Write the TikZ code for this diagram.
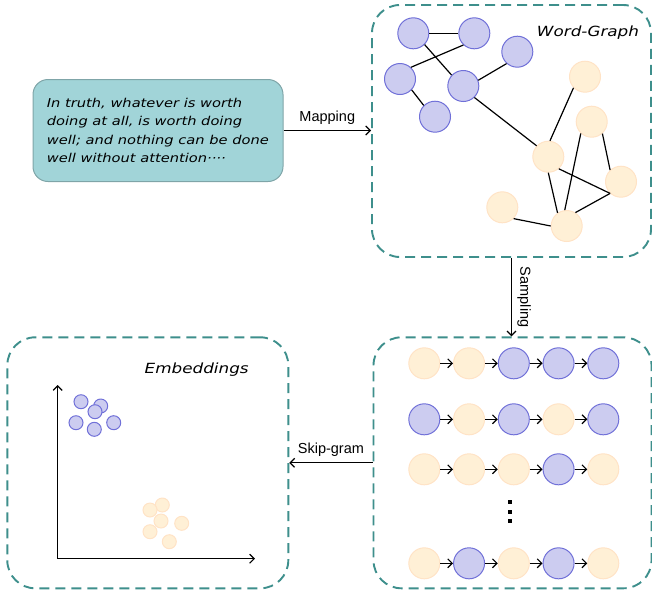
\documentclass[tikz,border=0pt]{standalone}
\usepackage{fontspec}
\setmainfont{Liberation Sans}
\newfontfamily\handfont[FakeStretch=1.2]{DejaVu Sans}
\usetikzlibrary{arrows.meta}

\definecolor{fillblue}{HTML}{CCCCF0}
\definecolor{edgeblue}{HTML}{7070D8}
\definecolor{fillpale}{HTML}{FFF0D6}
\definecolor{edgepale}{HTML}{FFE3C6}
\definecolor{boxteal}{HTML}{3E8F8C}
\definecolor{textfill}{HTML}{A1D4D8}
\definecolor{textedge}{HTML}{7FA5A8}

\tikzset{
	blue dot/.style={circle,draw=edgeblue,fill=fillblue,line width=1pt,minimum size=31pt,inner sep=0pt},
	pale dot/.style={circle,draw=edgepale,fill=fillpale,line width=1pt,minimum size=31pt,inner sep=0pt},
	region/.style={draw=boxteal,line width=1.9pt,dash pattern=on 10pt off 6pt,rounded corners=28pt},
	link/.style={line width=1.2pt},
	flow/.style={-{Straight Barb[length=4.5pt,width=9pt]},line width=1.2pt},
	hand/.style={font=\handfont\itshape\fontsize{14}{16}\selectfont},
	tag/.style={font=\fontsize{14.5}{16}\selectfont}
}

\begin{document}
\begin{tikzpicture}[x=1pt,y=-1pt]

	\useasboundingbox (0,0) rectangle (652,595);

	% sentence
	\node[draw=textedge,fill=textfill,rounded corners=15pt,line width=1pt,
		minimum width=250pt,minimum height=102pt] (txt) at (158,130.5) {};
	\node[anchor=west,inner sep=0pt,align=left,
		font=\handfont\itshape\fontsize{12.2}{18.3}\selectfont] (sentence) at (46.7,130.5)
		{In truth, whatever is worth\\ doing at all, is worth doing\\ well; and nothing can be done\\ well without attention····};

	% the three regions
	\node[region,minimum width=279pt,minimum height=252pt] (graph) at (511.5,131) {};
	\node[region,minimum width=278pt,minimum height=251pt] (walks) at (512.5,462.8) {};
	\node[region,minimum width=281pt,minimum height=251pt] (emb) at (147.8,462.8) {};

	\node[hand] (wglabel) at (588,33) {Word-Graph};
	\node[hand] (emblabel) at (196.7,369.3) {Embeddings};

	% word graph
	\node[blue dot] (b1) at (413.3,33.3) {};
	\node[blue dot] (b2) at (474.3,33.3) {};
	\node[blue dot] (b3) at (517.3,51.7) {};
	\node[blue dot] (b4) at (400,79) {};
	\node[blue dot] (b5) at (463.3,86) {};
	\node[blue dot] (b6) at (435,116.7) {};
	\node[pale dot] (y1) at (585,76.7) {};
	\node[pale dot] (y2) at (591.7,121.7) {};
	\node[pale dot] (y3) at (548.3,156.7) {};
	\node[pale dot] (y4) at (621,181.7) {};
	\node[pale dot] (y5) at (502.3,207.3) {};
	\node[pale dot] (y6) at (566.7,226) {};

	\draw[link] (b1.0) -- (b2.180);
	\draw[link] (b1.315) -- (b5.137);
	\draw[link] (b4.47) -- (b2.227);
	\draw[link] (b4.317) -- (b6.135);
	\draw[link] (b5.21) -- (b3.228);
	\draw[link] (b5.314) -- (y3.137);
	\draw[link] (y3.84) -- (y1.224);
	\draw[link] (y3.270) -- (y6.125);
	\draw[link] (y3.311) -- (y4.227);
	\draw[link] (y4.227) -- (y6.57);
	\draw[link] (y2.227) -- (y6.97);
	\draw[link] (y2.312) -- (y4.133);
	\draw[link] (y5.315) -- (y6.180);

	% sampled walks
	\foreach \r/\yy/\cols in {1/363.3/{pale,pale,blue,blue,blue},
		2/419.3/{blue,pale,blue,pale,blue},
		3/469.3/{pale,pale,pale,blue,pale},
		4/563.3/{pale,blue,pale,blue,pale}} {
		\foreach \c [count=\i] in \cols
			\node[\c\space dot] (w\r-\i) at ({424.3+44.75*(\i-1)},\yy) {};
		\foreach \i [evaluate=\i as \j using int(\i+1)] in {1,...,4}
			\draw[flow] (w\r-\i) -- (w\r-\j);
	}
	\foreach \d in {502,511.5,521}
		\fill (508,\d-2) rectangle ++(4,4);

	% embedding space
	\coordinate (o) at (57.7,558.7);
	\coordinate (ytip) at (57.7,385);
	\coordinate (xtip) at (255,558.7);
	\draw[flow] (o) -- (ytip);
	\draw[flow] (o) -- (xtip);
	\foreach \p in {(81,401.7),(100.7,406),(95,411.7),(76,422.7),(94.3,429.3),(113.7,422.7)}
		\filldraw[draw=edgeblue,fill=fillblue,line width=1pt] \p circle (7);
	\foreach \p in {(162.3,505),(150,510),(161,521),(181.7,523.3),(150,531.7),(169.3,541.7)}
		\filldraw[draw=edgepale,fill=fillpale,line width=1pt] \p circle (7);

	% steps
	\draw[flow] (txt.east) -- (txt.east -| graph.west) node[tag,midway,above=2pt] {Mapping};
	\draw[flow] (graph.south) -- (graph.south |- walks.north) node[tag,midway,sloped,above=2pt] {Sampling};
	\draw[flow] (walks.west) -- (emb.east) node[tag,midway,above=2pt] {Skip-gram};

\end{tikzpicture}
\end{document}
